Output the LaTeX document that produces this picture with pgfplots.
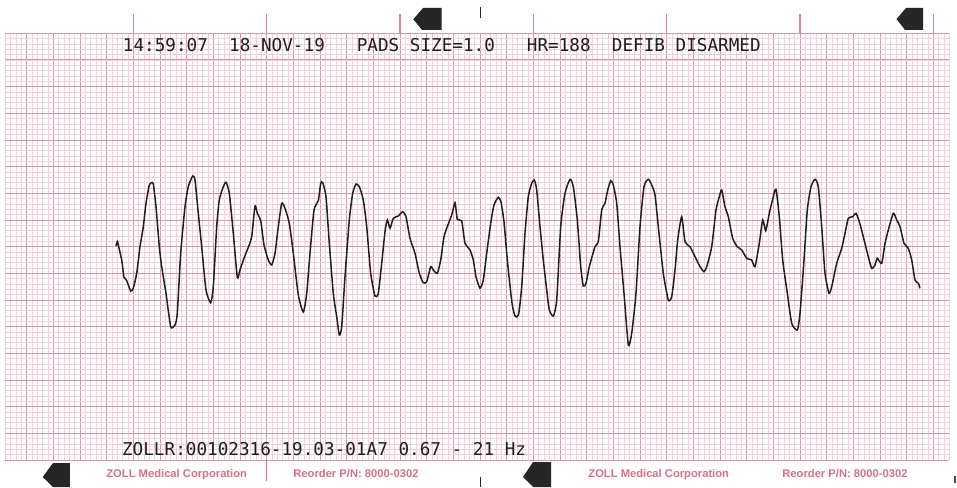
\documentclass[border=0pt]{standalone}
\usepackage{fontspec}
\usepackage{pgfplots}
\pgfplotsset{compat=1.18}
\setmonofont{DejaVu Sans Mono}
\setsansfont{Liberation Sans}
\definecolor{gridminor}{RGB}{246,206,217}
\definecolor{gridmajor}{RGB}{226,146,169}
\definecolor{ink}{RGB}{30,30,30}
\definecolor{printred}{RGB}{214,112,136}
\newcommand\recfont{\ttfamily\fontsize{8.83pt}{10pt}\selectfont}
\newcommand\footfont{\sffamily\bfseries\fontsize{5.6pt}{7pt}\selectfont}

\begin{document}
\begin{tikzpicture}
\fill[white] (0,0) rectangle (478.5pt,243.5pt);
\useasboundingbox (0,0) rectangle (478.5pt,243.5pt);
\begin{axis}[
  at={(2.6667pt,13.5pt)}, anchor=south west,
  scale only axis, width=472pt, height=213.3333pt,
  xmin=5.3333, xmax=949.3333, ymin=33.3333, ymax=460, y dir=reverse,
  clip=false,
  axis line style={draw=none},
  xtick={0,26.6667,...,960},
  ytick={33.3333,60,...,461},
  minor xtick={0,5.33333,...,960},
  minor ytick={33.3333,38.66667,...,461},
  grid=both,
  major grid style={gridmajor, line width=0.5pt},
  minor grid style={gridminor, line width=0.4pt},
  major tick length=0pt, minor tick length=0pt,
  xticklabels={}, yticklabels={},
]
% ECG trace
\addplot[ink, line width=0.75pt, smooth, tension=0.35] coordinates {
(116,246) (117.3,241.7) (118.3,245) (121.7,260) (124,277.3) (126.7,280.7) (130.7,291) (133.3,288.3)
(136.7,273.3) (140,246.7) (143.3,226.7) (146,203.3) (149.3,185) (151.7,182.7) (153.3,184) (156,206.7)
(159.3,246.7) (161.7,266.7) (166,293.3) (170.7,326.7) (175,325) (177.3,313.3) (180.7,253.3) (185,206.7)
(188.3,186.7) (192.7,176) (195,180) (198.3,213.3) (201.7,246.7) (206,290) (210.7,302.7) (213.3,286.7)
(216.7,226.7) (219.3,200) (223.3,186.7) (226,182.3) (229.3,193.3) (233.3,233.3) (237.3,277.3) (240,270)
(244,258.3) (248.3,247.3) (251.7,236.7) (255,206) (257.3,213.3) (260.7,220.7) (264,245) (268.3,260)
(271.7,265) (275,253.3) (278.3,226.7) (281.7,203.3) (285,208.3) (289.3,223.3) (293.3,253.3) (298.3,295)
(303.3,312) (306.7,293.3) (310,253.3) (314,210) (318.3,200.7) (320.7,183.3) (322.7,182.7) (326,196.7)
(329.3,243.3) (333.3,293.3) (336.7,316.7) (339.3,335) (341.7,326.7) (345,276.7) (349.3,220) (352.7,193.3)
(356,184) (359.3,186.7) (363.3,200) (366.7,226.7) (370.7,273.3) (375,296) (378.3,293.3) (381.7,263.3)
(385,231.7) (387.3,220) (390,228.3) (393.3,218.3) (398.3,216) (402.7,211.7) (406,216.7) (410,238.3)
(415,253.3) (419.3,273.3) (423.3,282.7) (426.7,281.7) (430.7,266.7) (433.3,270) (437.3,273.3) (440.7,260)
(444,236.7) (447.3,226.7) (451.7,215) (455,202.7) (457.3,219.3) (461.7,221) (465,243.3) (470,250)
(473.3,260) (476,276.7) (480,288.3) (483.3,280) (486.7,253.3) (490.7,223.3) (494,205) (498.3,197.3)
(501,202) (504,222) (507.5,262) (512,303) (515,316) (518.5,315)
(521.7,286.7) (525,233.3) (528.3,196.7) (531.7,183.3) (534.3,180) (536.7,190) (540,226.7) (543.3,260)
(546.7,290) (549.3,310) (553.3,316) (556.7,300) (560.7,226.7) (565,193.3) (570,179.3) (573.3,186.7)
(577.3,220) (580.7,266.7) (583.3,286) (586,283.3) (589.3,266.7) (595,246.7) (598.3,241.7) (601.7,210)
(605,203.3) (607.3,191.7) (610.7,180.7) (613.3,185) (616.7,203.3) (620,246.7) (624,293.3) (628.3,345)
(631.7,333.3) (636,293.3) (640,226.7) (644,186.7) (648.3,179.3) (651.7,185) (655,195) (658.3,226.7)
(663.3,273.3) (668.3,300) (671.7,296.7) (675,270) (677.7,240) (681.7,216.7) (685,241.7) (690,246.7)
(695,256.7) (700,266.7) (704,271.7)
(706.7,266.7) (711.7,246.7) (716,210) (719.3,196.7) (721.7,190) (725,206.7) (728.3,216.7) (732.7,238.3)
(737.3,246.7) (741.7,250) (746.7,258.3) (751.7,260) (755,266.7) (759.3,243.3) (762.7,220) (765.7,230.7)
(769.3,213.3) (773.3,196.7) (776,189.3) (779.3,216.7) (782.7,260) (787.3,293.3) (791.7,323.3) (797.3,330)
(800,313.3) (804,260) (807.3,210) (811,186.7) (815,179.3) (818.3,186.7) (821.7,226.7) (825,273.3)
(829,293.3) (831.7,286.7) (836.7,263.3) (841.7,248.3) (845,233.3) (848.3,218.3) (852.7,216.7) (856,213.3)
(859.3,221.7) (863.3,236.7) (868.3,256.7) (871.7,268.3) (875,265) (877.3,258.3) (881.7,263.3) (885,243.3)
(888.3,230) (893.3,213.3) (896.7,220) (900,226.7) (904,243.3) (908.3,248.3) (911.7,260) (915,280)
(918.3,283.3) (920,288.3)
};

% printed header and footer lines of the recorder
\node[anchor=base west, inner sep=0, text=ink, font=\recfont] at (axis cs:122.5,51.5) {14:59:07};
\node[anchor=base west, inner sep=0, text=ink, font=\recfont] at (axis cs:228.8,51.5) {18-NOV-19};
\node[anchor=base west, inner sep=0, text=ink, font=\recfont] at (axis cs:356.4,51.5) {PADS SIZE=1.0};
\node[anchor=base west, inner sep=0, text=ink, font=\recfont] at (axis cs:526.5,51.5) {HR=188};
\node[anchor=base west, inner sep=0, text=ink, font=\recfont] at (axis cs:611.5,51.5) {DEFIB DISARMED};
\node[anchor=base west, inner sep=0, text=ink, font=\recfont] at (axis cs:121.7,455) {ZOLLR:00102316-19.03-01A7 0.67 - 21 Hz};

% paper imprint
\node[anchor=base west, inner sep=0, text=printred, font=\footfont] at (axis cs:106,477) {ZOLL Medical Corporation};
\node[anchor=base west, inner sep=0, text=printred, font=\footfont] at (axis cs:293,477) {Reorder P/N: 8000-0302};
\node[anchor=base west, inner sep=0, text=printred, font=\footfont] at (axis cs:588,477) {ZOLL Medical Corporation};
\node[anchor=base west, inner sep=0, text=printred, font=\footfont] at (axis cs:782,477) {Reorder P/N: 8000-0302};
\draw[printred, line width=0.5pt] (axis cs:266.7,460) -- (axis cs:266.7,481);

% one-second marks above the grid
\pgfplotsinvokeforeach{133.3333,266.6667,400,533.3333,666.6667,800,933.3333}{
  \draw[printred!85, line width=0.55pt] (axis cs:#1,14.5) -- (axis cs:#1,33.3);
}

% black sync markers
\fill[black!85] (axis cs:413.3,19.3) -- (axis cs:423,8) -- (axis cs:441.7,8) -- (axis cs:441.7,30) -- (axis cs:422,30) -- cycle;
\fill[black!85] (axis cs:896.5,19) -- (axis cs:906,8) -- (axis cs:923,8) -- (axis cs:923,30) -- (axis cs:905,30) -- cycle;
\fill[black!85] (axis cs:42.7,477) -- (axis cs:53,463) -- (axis cs:70,463) -- (axis cs:70,487) -- (axis cs:53,487) -- cycle;
\fill[black!85] (axis cs:523,477) -- (axis cs:533,462) -- (axis cs:551,462) -- (axis cs:551,487) -- (axis cs:533,487) -- cycle;
\fill[black!85] (axis cs:479.6,7) rectangle (axis cs:481.4,18);
\fill[black!85] (axis cs:479.6,477) rectangle (axis cs:481.4,487);
\fill[black!70] (axis cs:954,476) rectangle (axis cs:955.5,483);
\end{axis}
\end{tikzpicture}
\end{document}
